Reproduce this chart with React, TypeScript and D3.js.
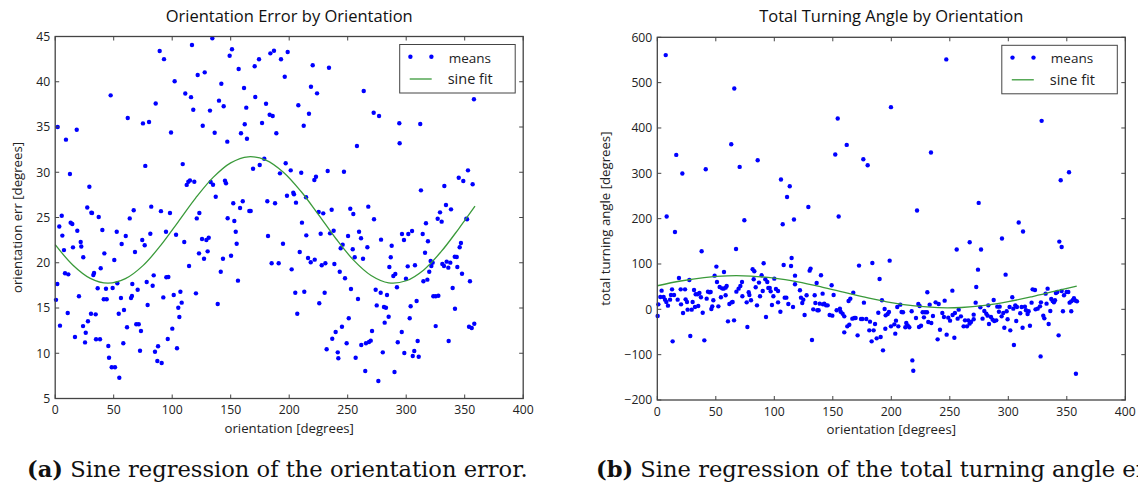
import React from "react";
import * as d3 from "d3";

// ---------- DATA ----------
const xTicks = [0, 50, 100, 150, 200, 250, 300, 350, 400];
const errYTicks = [5, 10, 15, 20, 25, 30, 35, 40, 45];
const turnYTicks = [-200, -100, 0, 100, 200, 300, 400, 500, 600];

// orientation [deg], mean orientation error [deg]
const errMeans: [number, number][] = [
  [2.1,35.0],[9.2,33.6],[12.6,29.8],[18.4,34.7],[29.2,28.4],[27.4,26.1],[31.5,25.5],[37.2,25.05],[5.6,25.2],[47.4,38.5],
  [62,36],[75,35.4],[80.2,35.55],[77,30.7],[67.1,25.8],[63.7,24.9],[82.1,26.2],[85.9,37.6],[89.3,43.4],[93,42.5],
  [99,34.4],[102.1,40.05],[90.4,25.7],[98.1,25.5],[109,30.9],[111.2,38.7],[116.1,38.3],[116.9,44.06],[118,36.9],[121.8,40.75],
  [112.4,28.6],[113.8,28.95],[115.2,29.1],[118.9,28.95],[123.2,25.5],[121,24.9],
  [3.5,24.0],[6.1,23.0],[7.5,21.4],[1.8,17.65],[0.7,15.9],[4.1,13.05],[8.4,18.84],[11.2,18.72],[10.7,14.45],[13.2,24.43],
  [14.6,24.28],[15.2,21.7],[18.9,23.54],[20.3,16.3],[21.8,22.3],[22.3,21.8],[24,20.6],[16.9,11.8],[25.5,11.2],[26.1,12.27],
  [28,13.53],[23.8,13.0],[30.6,14.37],[34.6,14.3],[34.9,11.54],[38.3,11.54],[32.6,18.65],[33.2,18.87],[30.9,25.53],[36.3,17.18],
  [38.9,19.39],[40.3,23.62],[42,21.04],[41.5,15.96],[44,15.96],[43.4,17.13],[45.4,10.8],[46,9.51],[48.3,8.45],[51.1,8.45],
  [49.1,17.21],[50.5,20.3],[52.6,23.43],[53.1,17.73],[54.8,7.3],[54.3,14.37],[56.2,16.1],[56.8,22.07],[58.8,14.78],[58.2,11.1],
  [60.3,22.96],[61.4,12.87],[64.8,16.1],[65.6,16.33],[65.9,17.65],[68.2,21.19],[69.3,13.2],[71.4,13.2],[70.5,17.02],[72.5,10.28],
  [73.3,12.46],[74.4,22.52],[76.5,21.93],[78.2,17.87],[79,15.33],[81.3,23.21],[83.3,17.46],[84.2,18.61],[85.3,10.17],[87.9,10.77],
  [87.3,9.14],[91,8.92],[92.4,16.17],[94.7,23.43],[95,18.39],[96.7,18.43],[96.2,11.58],[100.1,12.72],[101.3,16.44],[103.3,23.1],
  [104.1,10.55],[105.2,15.03],[106.1,14.0],[107,16.8],[108.1,15.59],[110.3,22.3],[114.4,19.64],[120.3,16.62],[122.9,21.04],
  [134.3,44.8],[151.1,43.59],[149.1,42.88],[183.9,43.14],[187,43.43],[198.7,43.29],[174.2,42.48],[170.5,41.71],[193,42.48],[156.8,41.41],
  [127.8,41.04],[142,39.78],[161.4,39.31],[196.2,40.56],[220.1,41.82],[234,41.55],[218.6,39.45],[223.8,38.72],[140,37.91],[144,37.29],
  [132.3,36.81],[163.3,37.14],[171,38.31],[180.2,37.57],[183.3,36.36],[185.9,36.22],[176.8,35.44],[207.8,37.4],[216.9,36.47],[212.4,35.14],
  [126.1,35.14],[136.3,34.37],[147.1,33.38],[158.8,34.31],[162,35.3],[163.9,33.7],[189,34.31],[257.9,32.9],[178.7,31.5],[169.1,30.39],
  [174.8,30.8],[197,30.99],[192.1,29.88],[201.3,30.21],[210.3,29.95],[222.9,29.51],[221.5,29.14],[232.9,30.14],[246.8,30.06],[132.9,28.92],
  [134.9,28.62],[145.1,29.07],[146,28.78],[137.2,27.3],[152.2,26.57],[160.3,26.79],[158,26.05],[165.9,25.72],[167.1,25.72],[181.3,26.79],
  [187.9,26.57],[198.1,27.41],[203.5,27.74],[204.1,27.56],[205.8,26.64],[214.4,27.23],[225.2,25.61],[229.1,25.46],[236.3,25.86],[252.2,25.97],
  [254.8,25.39],[147.4,24.91],
  [153.1,24.61],[154.3,23.43],[155.1,22.1],[125.5,22.62],[129.2,22.51],[131.2,22.77],[130.3,21.26],[127.2,20.45],[143.4,20.45],[150.3,20.78],
  [141.5,19.01],[156.2,18.02],[138.9,15.44],[181.9,22.96],[194.7,22.1],[185,19.94],[191,19.94],[202.1,19.27],[210.9,24.43],[214.6,23.03],
  [209,21.19],[216.1,20.52],[218.4,20.05],[221.8,20.34],[205.2,16.69],[212.9,16.8],[206.9,14.37],[226.9,23.21],[234.9,23.25],[238,23.54],
  [227.8,19.72],[230.9,19.94],[238.6,19.86],[243.2,19.01],[244,21.6],[245.7,22.0],[247.7,18.28],[250.3,22.96],[254.3,21.49],[256,20.6],
  [252.8,17.1],[258.8,16.0],[259.7,23.43],[230.3,16.69],[225.7,15.52],[250.9,13.86],[245.1,12.93],[239.7,12.35],[236.8,11.61],[249.1,11.1],
  [232,10.44],[241.5,10.1],[242,9.44],[256.8,9.51],
  [263.7,38.98],[272.2,36.58],[276.8,36.22],[294.1,35.41],[312,35.33],[294.4,33.2],[357.9,38.06],[352.8,30.21],[344.9,29.4],[348.8,29.03],
  [356.8,28.67],[332.6,28.48],[312.6,28.0],[334,26.38],[338.3,25.9],[328.9,25.57],[267.6,26.2],[272.5,24.8],[326.9,24.87],[351.4,24.87],
  [261.4,22.7],[266.8,21.71],[263.1,20.45],[278.5,22.55],[287.6,21.88],[286.8,20.6],[285.6,19.53],[289,18.54],[290.7,18.76],[296.4,23.18],
  [298.1,22.52],[301.8,23.18],[305,23.51],[314.1,23.18],[316.9,24.36],[318.6,22.37],[316.1,21.11],[330.3,24.54],[352,24.8],[346.8,22.19],
  [345.7,21.71],[341.5,20.67],[343.2,20.63],[320.9,20.2],[322.6,20.01],[321.5,19.64],[319.7,19.01],[318.1,18.13],[314.7,17.95],[330.9,19.86],
  [332.3,19.64],[334.6,20.12],[337.7,20.01],[336,19.46],[343.7,19.53],[347.7,18.79],[354.5,17.95],[301.3,19.6],[307.5,19.72],[299.8,18.24],
  [292.1,17.29],[273.9,17.02],[278.2,16.69],[283.6,16.44],[274.8,15.29],[281,15.11],[282.7,15.03],[285,14.04],[281.6,13.38],[303.8,15.19],
  [308.9,15.77],[303,13.86],[323.2,16.3],[325.2,16.3],[327.5,16.36],[325.2,13.0],[339.7,17.21],[341.7,14.92],[353.7,12.93],[356,12.79],
  [358.2,13.26],[336.3,11.35],[270.8,12.46],[269.7,11.39],[268.2,11.24],[265.6,11.1],[261.6,10.91],[265,8.04],[276.2,6.93],[280,10.1],
  [290,7.93],[292.8,11.21],[296.2,12.35],[298.4,10.03],[305.6,9.7],[306.9,10.25],[310.7,9.62],[309.8,11.35],
];

// sine fit of the orientation error
const errFit: [number, number][] = [
  [0,22.0],[15,19.76],[30,18.28],[45,17.74],[60,18.24],[75,19.68],[90,21.89],[105,24.5],[120,27.14],[135,29.43],
  [150,31.04],[165,31.71],[180,31.35],[195,30.01],[210,27.9],[225,25.32],[240,22.65],[255,20.29],[270,18.59],[285,17.78],
  [300,18.01],[315,19.21],[330,21.25],[345,23.78],[358.8,26.25],
];

// orientation [deg], mean total turning angle [deg]
const turnMeans: [number, number][] = [
  [7.2,560.7],[65.8,487.2],[16.2,340.6],[21.4,299.6],[41.4,309],[63.2,364.2],[70.4,314.1],[85.8,328.9],[105.7,286.3],[113.2,271.5],
  [110.9,247.9],[129.1,225.8],[107.2,187.6],[116.8,198],[74.4,196.5],[8,204.6],[15.1,170.6],[154.2,421],[152.1,341.5],[161.9,362.7],
  [176.1,331.1],[155,204.6],[67.3,133.1],[37.9,128],
  [247,551.2],[199.7,445.9],[328.5,415.7],[233.9,345.9],[179.8,317.9],[351.9,302.4],[344.8,284.8],[222,217.9],[274.7,234.7],[308.9,191.4],
  [312.6,171.5],[294.6,156.1],[267,147.9],[343.6,149.4],[345.6,137.5],[255.9,131.8],[276.7,131.8],
  [0.3,-14.7],[0.9,11],[2.6,27.2],[3.7,41.2],[5.4,27.2],[6.6,21.3],[7.7,16.2],[9.1,8.1],[10.9,21.3],[11.7,31.6],
  [14.3,31.6],[12.6,44.1],[13.1,-70.6],[17.4,21.3],[18.5,69.2],[20,44.1],[20.3,11],[22,-8.1],[23.7,44.1],[24.2,22],
  [25.4,16.2],[25.9,-0.7],[29.4,-0.7],[27.4,64.7],[28.2,-58.9],[30.2,16.2],[31.4,42.7],[32.8,33.1],[34.5,33.1],[32.2,5.1],
  [35,7.3],[36,36],[37.3,26.5],[38.8,-7.4],[40.2,-68.4],[42.2,23.5],[43.3,39],[44.5,37.5],[45.6,38.3],[46.2,0.7],
  [47,6.6],[47.9,19.9],[49,74.3],[50.5,94.2],[51,60.3],[52.2,6.6],[53.3,49.3],[54.4,26.5],[55.3,46.3],[56.7,45.6],
  [58.4,47.8],[57,82.4],[58.4,30.9],[59.3,51.5],[60.4,-26.5],[61.6,11.8],[63.6,15.4],[64.4,16.2],[65.6,-24.3],[67.6,39],
  [69.5,45.6],[71,51.5],[72.4,60.3],[72.7,28.7],[76.4,15.4],[77,-39],[78.1,37.5],[78.7,31.6],[80.1,19.9],[81.5,88.3],
  [82.9,83.9],[82.4,66.2],[84.1,48.6],[85.2,8.8],[86.9,58.9],[87.8,28.7],[89.2,75],[90.9,101.5],[90.1,40.5],[92.3,66.2],
  [94,60.3],[92.9,-16.9],[94.9,47.1],[96.1,47.1],[96.9,39.7],[98,9.5],[99.2,28.7],[100,67.7],[101.4,44.9],[103.2,40.5],
  [103.2,15.4],[105.2,-5.2],[108,97.9],[108.9,25.7],[110.3,25.7],[112,11.8],[114.3,95.6],[114.8,113.3],[116,5.1],[117.7,74.3],
  [117.7,55.2],
  [121.9,42],[122.8,25.7],[124.8,21.3],[123.9,14],[125.9,-12.5],[127.6,30.9],[130.2,85.3],[131,89.8],[132.2,-67.7],[133.3,0],
  [134.5,30.9],[135.1,14],[136.2,58.1],[136.8,-2.2],[137.9,-2.2],[138.8,12.5],[139.9,75],[141.3,34.6],[141.6,11],[142.7,12.5],
  [144.2,8.8],[145.6,8.8],[147.3,-12.5],[149.6,-14],[149,53],[150.7,31.6],[153.3,-2.2],[156.1,1.5],[156.7,-5.2],[158.4,-9.6],
  [159.8,-15.5],[159.8,-50.8],[162.4,-37.5],[164.1,-33.9],[163.5,18.4],[165,23.5],[167.5,36.8],[166.7,-20.6],[168.4,-19.1],[169.5,-19.1],
  [171.2,-57.4],[172.4,96.4],[174.1,-21.3],[175.2,-21.3],[176.6,14.7],[178.6,-21.3],[181.8,-27.2],[181.2,-46.4],[184.9,-46.4],[183.2,-70.6],
  [183.8,102.3],[186.1,-32.4],[187.5,-64],[190.9,-61.1],[188.9,-7.4],[190,67],[192,19.9],[192.9,-90.5],[194.3,0.7],[195.2,-13.3],
  [196.9,-10.3],[198,-5.9],[194.9,-42.7],[198.6,107.4],[199.7,-37.5],[202.6,-33.1],[204,-25],[203.4,-53.7],[205.1,5.1],[207.7,10.3],
  [208.8,-5.9],[206,-37.5],[210,-6.6],[212,-39.7],[212.8,-30.2],[214,-35.3],[215.4,-39.7],[217.4,-4.4],[218,-112.6],[218.8,-135.4],
  [221.1,-19.1],[223.7,-39],[225.4,-36.1],[223.1,11.8],[224.2,7.3],[226.8,-6.6],[228.8,-6.6],[230.5,-6.6],[227.9,-17.7],[230.8,37.5],
  [232.8,10.3],[231.6,-28],[234.2,-30.2],[235.6,-14.7],[237.9,15.4],[240.5,11.8],[239.6,-66.2],[241.6,-44.9],[243.6,-8.1],[245.6,19.1],
  [245,-16.9],[247.3,-55.9],[248.7,-18.4],[250.2,-25],[252.4,-12.5],[252.2,41.2],[253.9,-62.6],[256.7,-20.6],[257.6,-0.7],
  [274.1,87.5],[297.7,76.5],[272.6,49.3],[254.4,-8.1],[259.5,-15.5],[261.8,-37.5],[263,-24.3],[264.7,-37.5],[265.8,-24.3],[266.9,-31.6],
  [268.1,-28],[270.4,-22],[270.4,-11.8],[272.1,14.7],[276.1,4.4],[278,-20.6],[279.5,-3.7],[281.2,-9.6],[282.3,-14],[283.5,-32.4],
  [282.9,8.8],[285.2,-16.9],[286.6,-22.8],[288,-25.8],[289.7,-24.3],[287.5,20.6],[290.6,5.9],[292.6,5.9],[292,-5.2],[294.3,-15.5],
  [296.6,-40.5],[295.7,-8.1],[298.6,-4.4],[299.4,-22],[301.7,-46.4],[301.1,5.1],[303.4,26.5],[304.3,1.5],[304.8,-78.7],[306,8.8],
  [307.4,5.1],[306.8,-25.8],[310.2,-8.8],[311.4,5.1],[312.2,-40.5],[314.2,5.9],[315.1,-2.2],[316.5,-10.3],[317.4,-4.4],[318.5,-36.1],
  [319.9,14.7],[320.8,44.1],[322.8,42.7],[323.3,0],[325.1,1.5],[327.1,6.6],[327.9,15.4],[327.6,-103.8],[329.9,-14],[330.8,-19.9],
  [331.9,34.6],[333.6,45.6],[332.7,12.5],[334.5,-32.4],[335.9,-3.7],[336.7,22.8],[337.9,18.4],[339,15.4],[339.9,19.9],[340.7,36],
  [341.9,38.3],[343,-57.4],[345.6,40.5],[346.7,-4.4],[347.6,30.9],[349.8,38.3],[351.3,38.3],[352.4,14.7],[353.8,17.6],[355.3,20.6],
  [356.1,24.3],[357.5,19.1],[358.7,17.6],[353.8,-4.4],[357.8,-142],
];

// sine fit of the total turning angle
const turnFit: [number, number][] = [
  [0,52.0],[20,62.5],[40,70.0],[60,73.9],[80,73.4],[100,68.8],[120,60.6],[140,49.7],[160,37.5],[180,25.4],
  [200,14.9],[220,7.4],[240,3.6],[260,4.0],[280,8.6],[300,16.8],[320,27.7],[340,39.9],[358.5,51.1],
];

const legendLabels = ["means", "sine fit"];

// ---------- STYLE ----------
const FONT = "'Open Sans', 'DejaVu Sans', sans-serif";
const SERIF = "'DejaVu Serif', 'Liberation Serif', serif";
const DOT = "#0000ff";
const LINE = "#3a9a3a";
const FRAME = "#444";

type PanelProps = {
  box: { x0: number; x1: number; y0: number; y1: number };
  yDomain: [number, number];
  yTicks: number[];
  points: [number, number][];
  fit: [number, number][];
  title: string;
  yLabel: string;
  yLabelX: number;
  tickFmt: (v: number) => string;
};

function Panel({ box, yDomain, yTicks, points, fit, title, yLabel, yLabelX, tickFmt }: PanelProps) {
  const x = d3.scaleLinear().domain([0, 400]).range([box.x0, box.x1]);
  const y = d3.scaleLinear().domain(yDomain).range([box.y1, box.y0]);
  const line = d3
    .line<[number, number]>()
    .x((d) => x(d[0]))
    .y((d) => y(d[1]))
    .curve(d3.curveCatmullRom);
  const tl = 4;
  const cx = (box.x0 + box.x1) / 2;
  const cy = (box.y0 + box.y1) / 2;
  const lx = box.x1 - 123.5;
  const ly = box.y0 + 8;
  return (
    <g>
      <text x={cx} y={box.y0 - 15} textAnchor="middle" fontFamily={FONT} fontSize={16.5} fill="#111">
        {title}
      </text>
      {points.map((d, i) => (
        <circle key={i} cx={x(d[0])} cy={y(d[1])} r={2.2} fill={DOT} />
      ))}
      <path d={line(fit) || ""} fill="none" stroke={LINE} strokeWidth={1.3} />
      {xTicks.map((t) => (
        <g key={"x" + t}>
          <line x1={x(t)} x2={x(t)} y1={box.y1} y2={box.y1 - tl} stroke={FRAME} strokeWidth={1} />
          <line x1={x(t)} x2={x(t)} y1={box.y0} y2={box.y0 + tl} stroke={FRAME} strokeWidth={1} />
          <text x={x(t)} y={box.y1 + 15.5} textAnchor="middle" fontFamily={FONT} fontSize={12.2} fill="#222">
            {t}
          </text>
        </g>
      ))}
      {yTicks.map((t) => (
        <g key={"y" + t}>
          <line x1={box.x0} x2={box.x0 + tl} y1={y(t)} y2={y(t)} stroke={FRAME} strokeWidth={1} />
          <line x1={box.x1} x2={box.x1 - tl} y1={y(t)} y2={y(t)} stroke={FRAME} strokeWidth={1} />
          <text x={box.x0 - 5} y={y(t) + 4.3} textAnchor="end" fontFamily={FONT} fontSize={12.2} fill="#222">
            {tickFmt(t)}
          </text>
        </g>
      ))}
      <rect x={box.x0} y={box.y0} width={box.x1 - box.x0} height={box.y1 - box.y0} fill="none" stroke={FRAME} strokeWidth={1.3} />
      <text x={cx} y={box.y1 + 34} textAnchor="middle" fontFamily={FONT} fontSize={13.2} fill="#222">
        orientation [degrees]
      </text>
      <text
        transform={`translate(${yLabelX},${cy}) rotate(-90)`}
        textAnchor="middle"
        fontFamily={FONT}
        fontSize={13.2}
        fill="#222"
      >
        {yLabel}
      </text>
      <rect x={lx} y={ly} width={115.5} height={48.5} fill="#fff" stroke={FRAME} strokeWidth={1} />
      <circle cx={lx + 10.7} cy={ly + 12.3} r={2.2} fill={DOT} />
      <circle cx={lx + 31.7} cy={ly + 12.3} r={2.2} fill={DOT} />
      <text x={lx + 49} y={ly + 18} fontFamily={FONT} fontSize={13.5} fill="#222">
        {legendLabels[0]}
      </text>
      <line x1={lx + 10} x2={lx + 32} y1={ly + 34.5} y2={ly + 34.5} stroke={LINE} strokeWidth={1.3} />
      <text x={lx + 48} y={ly + 39.5} fontFamily={FONT} fontSize={14.5} fill="#222">
        {legendLabels[1]}
      </text>
    </g>
  );
}

export default function App() {
  const fmt = (v: number) => (v < 0 ? "\u2212" + Math.abs(v) : String(v));
  return (
    <svg width={1138} height={486} style={{ position: "absolute", left: 0, top: 0, background: "#fff" }}>
      <rect width={1138} height={486} fill="#fff" />
      <Panel
        box={{ x0: 55.2, x1: 523.2, y0: 36.5, y1: 398.5 }}
        yDomain={[5, 45]}
        yTicks={errYTicks}
        points={errMeans}
        fit={errFit}
        title="Orientation Error by Orientation"
        yLabel="orientation err [degrees]"
        yLabelX={22}
        tickFmt={fmt}
      />
      <Panel
        box={{ x0: 657.3, x1: 1125.3, y0: 37.3, y1: 400 }}
        yDomain={[-200, 600]}
        yTicks={turnYTicks}
        points={turnMeans}
        fit={turnFit}
        title="Total Turning Angle by Orientation"
        yLabel="total turning angle [degrees]"
        yLabelX={610}
        tickFmt={fmt}
      />
      <text x={27} y={477} fontFamily={SERIF} fontSize={22.6} fill="#111">
        <tspan fontWeight="bold">(a)</tspan> Sine regression of the orientation error.
      </text>
      <text x={596} y={477} fontFamily={SERIF} fontSize={22.6} fill="#111">
        <tspan fontWeight="bold">(b)</tspan> Sine regression of the total turning angle error.
      </text>
    </svg>
  );
}
